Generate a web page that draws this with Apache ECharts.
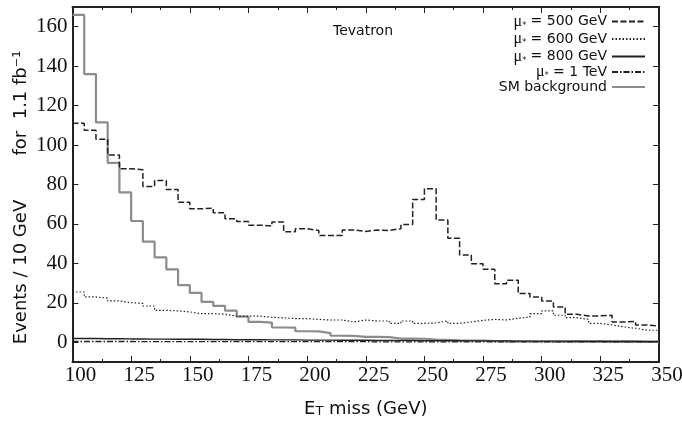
<!DOCTYPE html>
<html><head><meta charset="utf-8">
<script src="https://cdn.jsdelivr.net/npm/echarts@6/dist/echarts.min.js"></script>
<style>html,body{margin:0;padding:0;background:#fff}#c{width:682px;height:423px}</style>
</head><body><div id="c"></div>
<script>
// bin lower edges (GeV), last bin closes at xMax
const binEdges = [100,105,110,115,120,125,130,135,140,145,150,155,160,165,170,175,180,185,190,195,
                  200,205,210,215,220,225,230,235,240,245,250,255,260,265,270,275,280,285,290,295,
                  300,305,310,315,320,325,330,335,340,345];
const xMax = 350;
const yTickValues = [0,20,40,60,80,100,120,140,160];

const smBackground = [166,136,111.5,91,76,61.5,51,43,37,29,25,20.5,18.5,16,13,10.3,10,7.5,7.4,5.6,
                      5.5,4.6,3.3,3.2,2.7,2.7,2.6,1.9,1.9,1.8,1.4,1.2,1.0,0.9,0.8,0.6,0.5,0.5,0.4,0.4,
                      0.3,0.3,0.3,0.3,0.3,0.2,0.2,0.2,0.2,0.2];
const mu500 = [111,107.5,103,95,88,87.5,79,82,77.5,71,67.7,68,65.7,62.6,61.2,59.4,58.9,61,56,57.6,
               56.7,54.2,54.2,56.9,56.2,56.9,56.7,57.6,59.7,72.4,77.8,62,52.7,44.2,39.8,37,29.7,31.4,24.7,22.9,
               20.9,17.9,14.2,13.3,13.4,13.7,10.3,10.6,8.8,8.3];
const mu600 = [25.5,23,22.4,21,20.1,19.7,18.4,16.2,15.9,15.4,14.5,14.5,14.2,13.3,13.3,13.2,12.7,12.4,12,12,
               11.6,11.3,11.3,10.3,11.3,10.8,10.8,9.6,10.8,9.6,9.8,10.8,9.6,10.3,11.1,11.6,11.3,12.2,12.8,14.5,
               15.9,13.7,12.5,11.6,9.6,8.8,7.8,7.1,6.1,6.1];
const mu800 = [1.9,1.9,1.8,1.8,1.7,1.7,1.6,1.6,1.5,1.5,1.5,1.4,1.4,1.3,1.3,1.3,1.2,1.2,1.2,1.1,
               1.1,1.1,1.0,1.0,1.0,0.9,0.9,0.9,0.9,0.8,0.8,0.8,0.8,0.7,0.7,0.7,0.7,0.6,0.6,0.6,
               0.6,0.6,0.5,0.5,0.5,0.5,0.5,0.5,0.4,0.4];
const mu1000 = [0.4,0.4,0.4,0.4,0.4,0.3,0.3,0.3,0.3,0.3,0.3,0.3,0.3,0.3,0.3,0.3,0.3,0.3,0.3,0.3,
                0.3,0.3,0.3,0.3,0.3,0.2,0.2,0.2,0.2,0.2,0.2,0.2,0.2,0.2,0.2,0.2,0.2,0.2,0.2,0.2,
                0.2,0.2,0.2,0.2,0.2,0.2,0.2,0.2,0.2,0.2];

const names = ['μ* = 500 GeV','μ* = 600 GeV','μ* = 800 GeV','μ* = 1 TeV','SM background'];
const legendCenters = [22, 39.5, 57, 72.5, 88.5];

function hist(vals){
  const d = binEdges.map((x,i)=>[x, vals[i]]);
  d.push([xMax, vals[vals.length-1]]);
  return d;
}

const axisCol = '#222';
const serif = '"Liberation Serif", "Times New Roman", serif';
const sans = '"DejaVu Sans", sans-serif';

const legends = names.map((n,i)=>({
  data:[n], right:36, top: legendCenters[i]-8.5, orient:'horizontal', align:'right',
  itemWidth:33, itemHeight:10, padding:0, selectedMode:false,
  itemStyle:{opacity:0, color:'transparent', borderWidth:0},
  textStyle:{fontFamily:sans, fontSize:14, color:'#111',
    rich:{m:{fontFamily:serif, fontSize:16, color:'#111'},
          s:{fontFamily:sans, fontSize:8, color:'#111', verticalAlign:'bottom'},
          r:{fontFamily:sans, fontSize:14, color:'#111'}}},
  formatter: nm => nm.indexOf('μ*')===0 ? '{m|μ}{s|*}{r|' + nm.slice(2) + '}' : nm
}));

const chart = echarts.init(document.getElementById('c'), null, {renderer:'canvas'});
chart.setOption({
  animation:false,
  backgroundColor:'#fff',
  title:{text:'Tevatron', left:333, top:24, padding:0,
    textStyle:{fontFamily:sans, fontSize:14, fontWeight:'normal', color:'#111'}},
  legend: legends,
  grid:{left:72.5, right:23, top:7, bottom:61, show:false, containLabel:false, outerBoundsMode:'none'},
  xAxis:[{
    type:'value', min:100, max:xMax, interval:25, position:'bottom',
    axisLine:{show:true, onZero:false, lineStyle:{color:axisCol, width:2}},
    axisTick:{show:true, inside:true, length:6, lineStyle:{color:axisCol, width:1}},
    minorTick:{show:true, splitNumber:2, length:3, lineStyle:{color:axisCol, width:1}},
    splitLine:{show:false},
    axisLabel:{fontFamily:serif, fontSize:21, color:'#111', margin:3, padding:[0,0,0,16]},
    name:'E{t|T} miss (GeV)', nameLocation:'middle', nameGap:38,
    nameTextStyle:{fontFamily:sans, fontSize:18, color:'#111',
      rich:{t:{fontFamily:sans, fontSize:13, color:'#111', verticalAlign:'bottom'}}}
  },{
    type:'value', min:100, max:xMax, interval:25, position:'top',
    axisLine:{show:true, onZero:false, lineStyle:{color:axisCol, width:2}},
    axisTick:{show:true, inside:true, length:6, lineStyle:{color:axisCol, width:1}},
    minorTick:{show:true, splitNumber:2, length:3, lineStyle:{color:axisCol, width:1}},
    splitLine:{show:false}, axisLabel:{show:false}
  }],
  yAxis:[{
    type:'value', min:-10, max:170, position:'left',
    axisLine:{show:true, onZero:false, lineStyle:{color:axisCol, width:2}},
    axisTick:{show:true, inside:true, length:6, customValues:yTickValues, lineStyle:{color:axisCol, width:1}},
    splitLine:{show:false},
    axisLabel:{fontFamily:serif, fontSize:21, color:'#111', margin:5, customValues:yTickValues}
  },{
    type:'value', min:-10, max:170, position:'right',
    axisLine:{show:true, onZero:false, lineStyle:{color:axisCol, width:2}},
    axisTick:{show:true, inside:true, length:6, customValues:yTickValues, lineStyle:{color:axisCol, width:1}},
    splitLine:{show:false}, axisLabel:{show:false}
  }],
  graphic:[
    {type:'text', x:21, y:272, rotation:Math.PI/2,
      style:{text:'Events / 10 GeV', font:'18px "DejaVu Sans"', fill:'#111',
        textAlign:'center', textVerticalAlign:'middle', align:'center', verticalAlign:'middle'}},
    {type:'text', x:21, y:103, rotation:Math.PI/2,
      style:{text:'for  1.1 fb⁻¹', font:'18px "DejaVu Sans"', fill:'#111',
        textAlign:'center', textVerticalAlign:'middle', align:'center', verticalAlign:'middle'}}
  ],
  series:[
    {name:names[4], type:'line', step:'end', symbol:'none', data:hist(smBackground),
      lineStyle:{color:'#8c8c8c', width:2.2}, itemStyle:{color:'#8c8c8c'}, z:2},
    {name:names[1], type:'line', step:'end', symbol:'none', data:hist(mu600),
      lineStyle:{color:'#222', width:1.2, type:[1.5,2]}, itemStyle:{color:'#222'}, z:3},
    {name:names[2], type:'line', step:'end', symbol:'none', data:hist(mu800),
      lineStyle:{color:'#222', width:1.4}, itemStyle:{color:'#222'}, z:3},
    {name:names[3], type:'line', step:'end', symbol:'none', data:hist(mu1000),
      lineStyle:{color:'#222', width:1.3, type:[6,2,1.5,2]}, itemStyle:{color:'#222'}, z:3},
    {name:names[0], type:'line', step:'end', symbol:'none', data:hist(mu500),
      lineStyle:{color:'#222', width:1.5, type:[6,2.5]}, itemStyle:{color:'#222'}, z:4}
  ]
});
</script></body></html>
